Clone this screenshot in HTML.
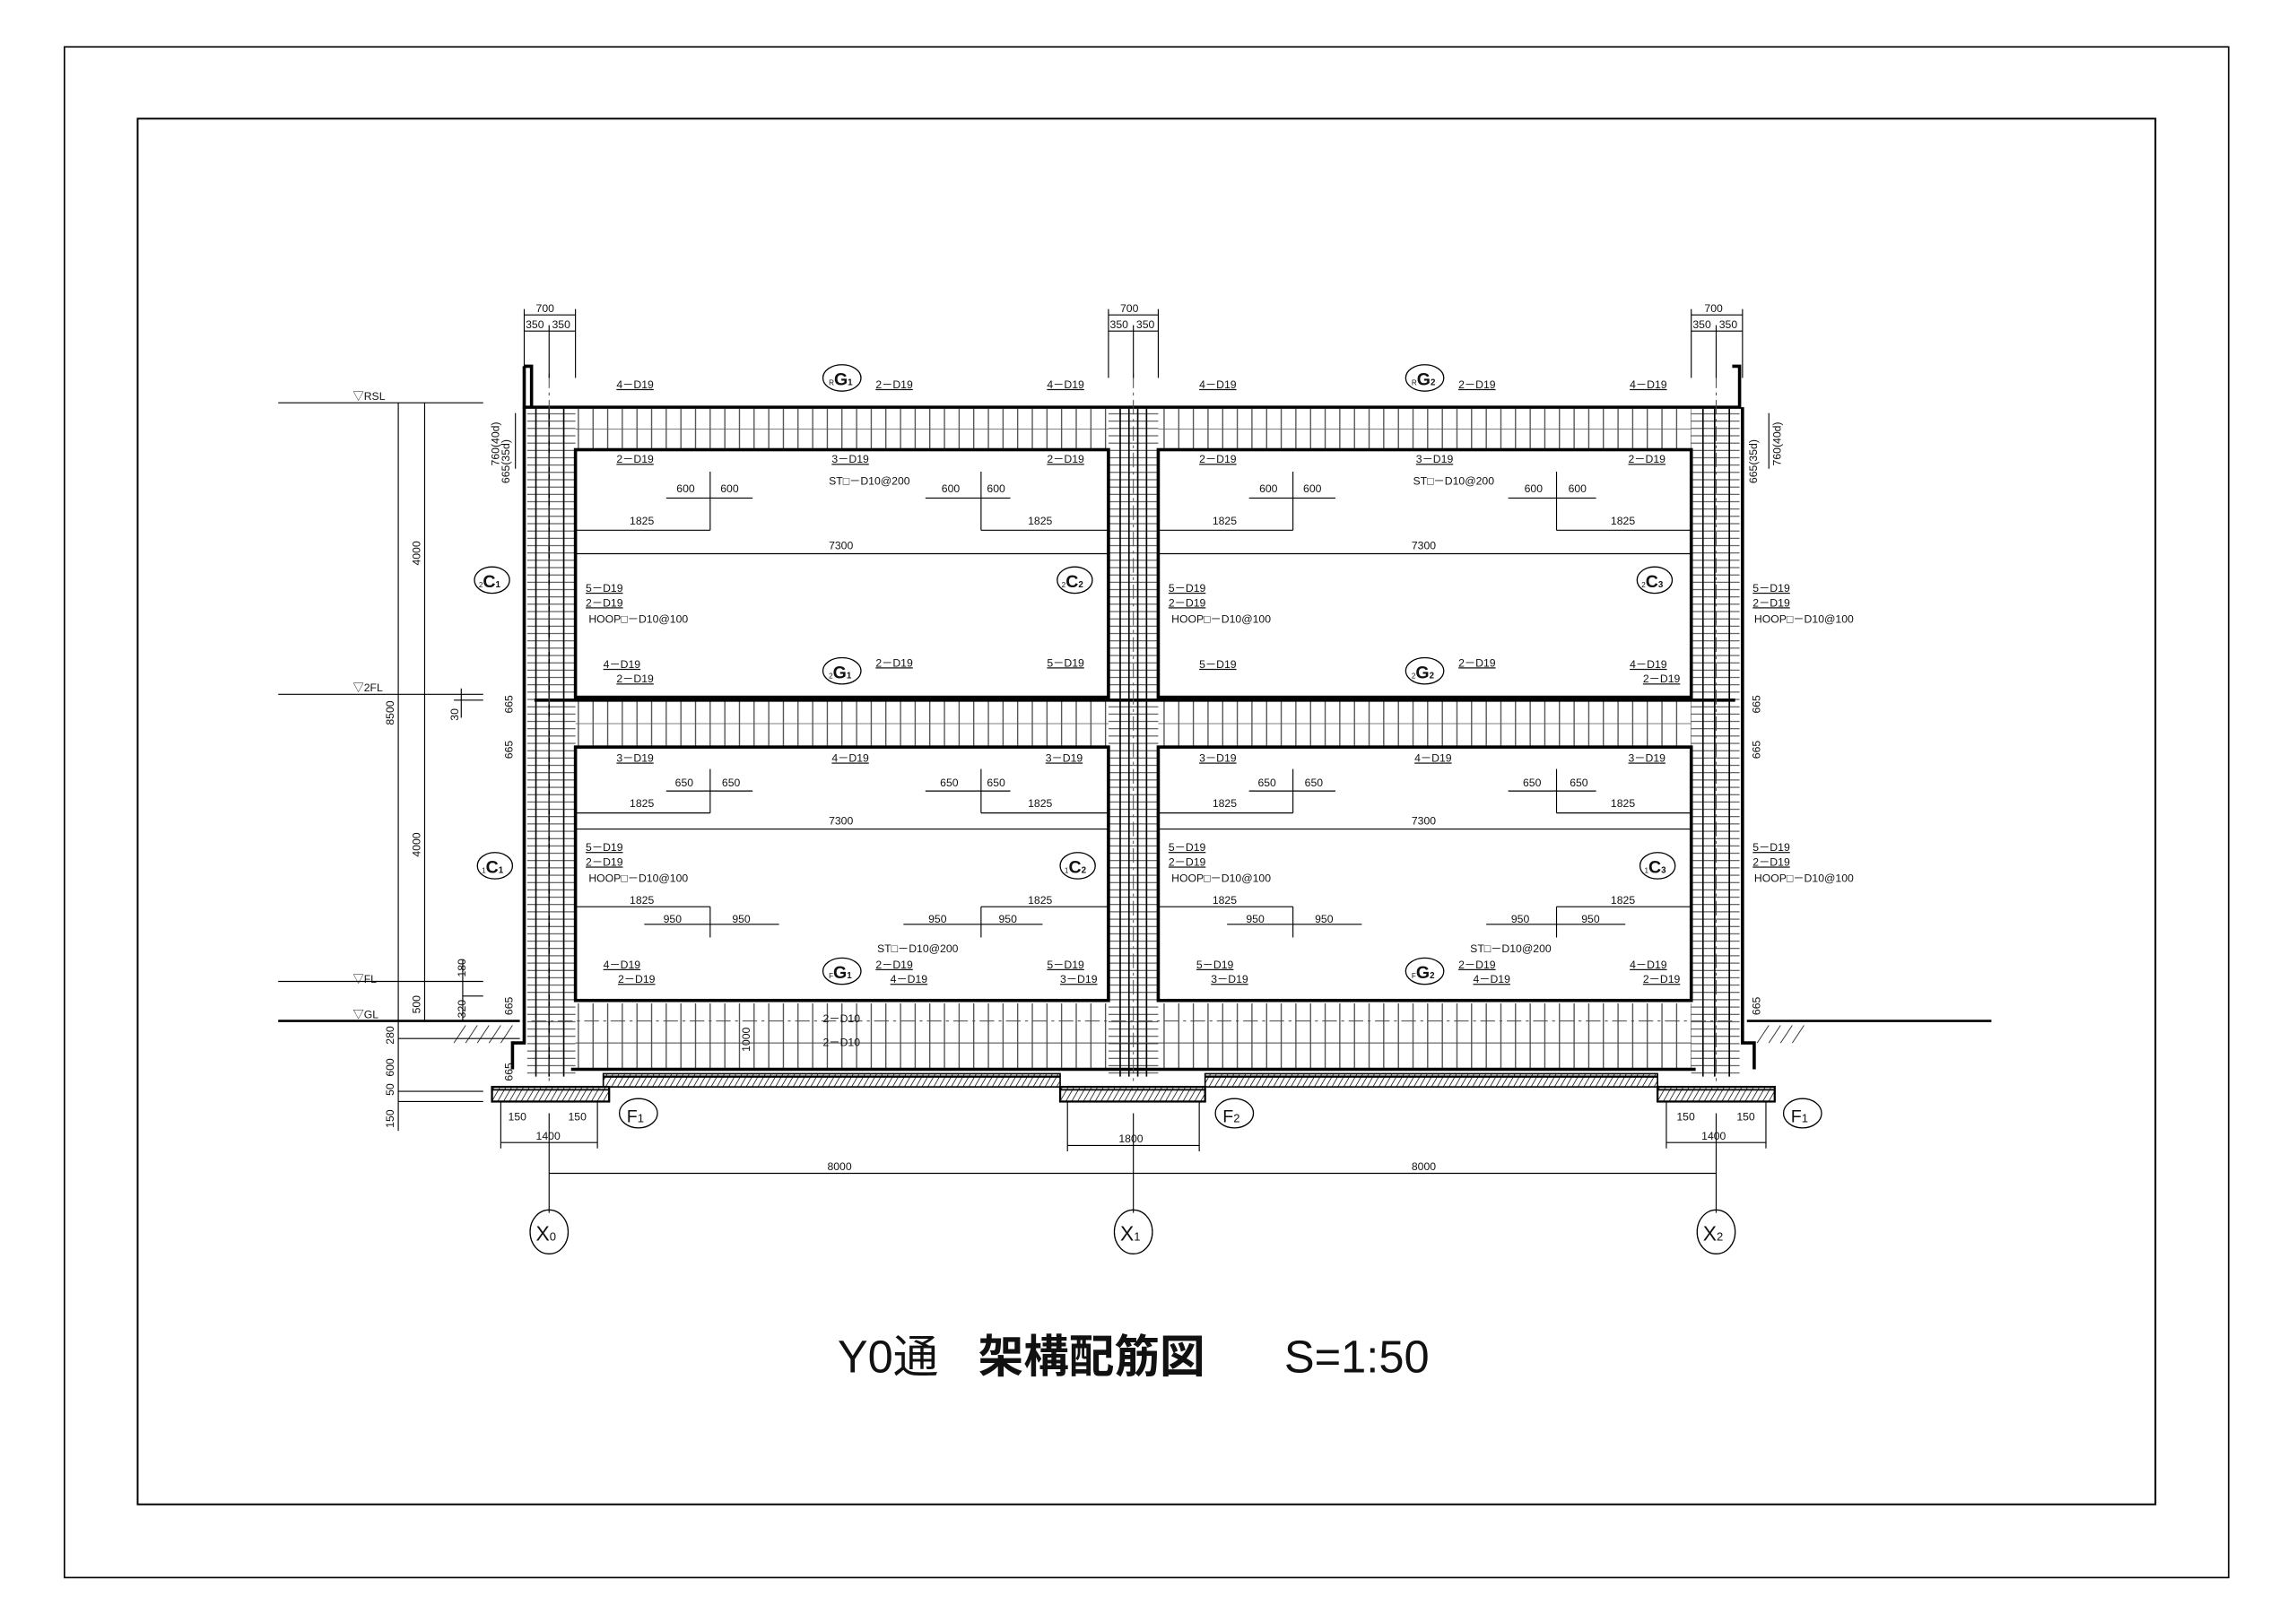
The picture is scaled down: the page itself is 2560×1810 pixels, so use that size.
<!DOCTYPE html>
<html><head><meta charset="utf-8"><style>
html,body{margin:0;padding:0;background:#fff;}
svg{display:block;}
text{font-family:"Liberation Sans","Noto Sans CJK JP",sans-serif;fill:#111;}
.t{font-size:7.5px;}
.u text{text-decoration:underline;}
.b{fill:none;stroke:#000;}
</style></head><body>
<svg width="2560" height="1810" viewBox="0 0 1568 1108" preserveAspectRatio="none" xmlns="http://www.w3.org/2000/svg">
<defs>
<pattern id="vb" width="10" height="10" patternUnits="userSpaceOnUse"><rect width="10" height="10" fill="#fff"/><line x1="5" y1="0" x2="5" y2="10" stroke="#333" stroke-width="0.7"/></pattern>
<pattern id="hc" width="10" height="5" patternUnits="userSpaceOnUse"><rect width="10" height="5" fill="#fff"/><line x1="0" y1="2.5" x2="10" y2="2.5" stroke="#333" stroke-width="0.6"/></pattern>
<pattern id="ht" width="4" height="10" patternUnits="userSpaceOnUse" patternTransform="skewX(-30)"><rect width="4" height="10" fill="#fff"/><line x1="2" y1="0" x2="2" y2="10" stroke="#222" stroke-width="0.6"/></pattern>
</defs>
<rect width="1568" height="1108" fill="#fff"/>
<rect x="44" y="32" width="1478" height="1045" class="b" stroke-width="1"/>
<rect x="94" y="81" width="1378" height="946" class="b" stroke-width="1.2"/>

<rect x="363" y="279" width="823" height="28" fill="url(#vb)"/>
<rect x="363" y="479" width="823" height="30" fill="url(#vb)"/>
<rect x="363" y="685" width="823" height="45" fill="url(#vb)"/>
<line x1="393" y1="293" x2="1155" y2="293" stroke="#555" stroke-width="0.5"/>
<line x1="393" y1="494" x2="1155" y2="494" stroke="#555" stroke-width="0.5"/>
<rect x="360" y="279" width="33" height="455" fill="url(#hc)"/>
<rect x="757" y="279" width="34" height="455" fill="url(#hc)"/>
<rect x="1155" y="279" width="33" height="455" fill="url(#hc)"/>
<g stroke="#000" stroke-width="1" fill="none">
<line x1="375" y1="279" x2="375" y2="735"/><line x1="385" y1="279" x2="385" y2="735"/><line x1="366" y1="279" x2="366" y2="735"/>
<line x1="765" y1="279" x2="765" y2="735"/><line x1="783" y1="279" x2="783" y2="735"/><line x1="771" y1="279" x2="771" y2="735"/><line x1="777" y1="279" x2="777" y2="735"/>
<line x1="1163" y1="279" x2="1163" y2="735"/><line x1="1181" y1="279" x2="1181" y2="735"/><line x1="1171" y1="279" x2="1171" y2="735"/>
</g>
<g stroke="#000" stroke-width="2.2" fill="none">
<path d="M358,250 V278 H1188 V250 H1183"/><path d="M358,250 H363 V278"/>
<line x1="358" y1="278" x2="358" y2="700"/><line x1="1190" y1="278" x2="1190" y2="700"/>
<rect x="393" y="307" width="364" height="169"/><rect x="791" y="307" width="364" height="169"/>
<rect x="393" y="510" width="364" height="173"/><rect x="791" y="510" width="364" height="173"/>
<line x1="365" y1="478" x2="1185" y2="478"/>
<line x1="390" y1="730" x2="1158" y2="730"/>
<path d="M358,700 V712 H350 V730"/><path d="M1190,700 V712 H1198 V730"/>
</g>
<line x1="190" y1="697" x2="355" y2="697" stroke="#000" stroke-width="1.6"/>
<line x1="1193" y1="697" x2="1360" y2="697" stroke="#000" stroke-width="1.6"/>
<g stroke="#333" stroke-width="0.6"><path d="M310,712 l8,-12 M318,712 l8,-12 M326,712 l8,-12 M334,712 l8,-12 M342,712 l8,-12 M1200,712 l8,-12 M1208,712 l8,-12 M1216,712 l8,-12 M1224,712 l8,-12"/></g>
<g stroke="#444" stroke-width="0.6" stroke-dasharray="10,3,2,3">
<line x1="375" y1="255" x2="375" y2="740"/><line x1="774" y1="255" x2="774" y2="740"/><line x1="1172" y1="255" x2="1172" y2="740"/>
<line x1="363" y1="697" x2="1186" y2="697"/>
</g>
<line x1="393" y1="712" x2="1155" y2="712" stroke="#444" stroke-width="0.6"/>
<rect x="412" y="733" width="312" height="9" fill="url(#ht)" stroke="#000" stroke-width="1"/>
<rect x="823" y="733" width="309" height="9" fill="url(#ht)" stroke="#000" stroke-width="1"/>
<line x1="412" y1="735" x2="724" y2="735" stroke="#000" stroke-width="1.5"/>
<line x1="823" y1="735" x2="1132" y2="735" stroke="#000" stroke-width="1.5"/>
<rect x="336" y="742" width="80" height="10" fill="url(#ht)" stroke="#000" stroke-width="1.4"/>
<rect x="724" y="742" width="99" height="10" fill="url(#ht)" stroke="#000" stroke-width="1.4"/>
<rect x="1132" y="742" width="80" height="10" fill="url(#ht)" stroke="#000" stroke-width="1.4"/>
<g stroke="#000" stroke-width="1"><line x1="336" y1="744" x2="416" y2="744"/><line x1="724" y1="744" x2="823" y2="744"/><line x1="1132" y1="744" x2="1212" y2="744"/></g>

<g stroke="#000" stroke-width="0.7" fill="none">
<line x1="190" y1="275" x2="330" y2="275"/><line x1="190" y1="474" x2="330" y2="474"/><line x1="190" y1="670" x2="330" y2="670"/>
<line x1="272" y1="275" x2="272" y2="772"/><line x1="290" y1="275" x2="290" y2="697"/>
<line x1="272" y1="709" x2="355" y2="709"/><line x1="272" y1="745" x2="330" y2="745"/><line x1="272" y1="752" x2="330" y2="752"/>
<line x1="315" y1="470" x2="315" y2="490"/><line x1="310" y1="478" x2="330" y2="478"/>
<line x1="316" y1="655" x2="316" y2="697"/><line x1="316" y1="680" x2="330" y2="680"/>
<line x1="358" y1="215" x2="393" y2="215"/><line x1="358" y1="226" x2="393" y2="226"/><line x1="358" y1="211" x2="358" y2="258"/><line x1="393" y1="211" x2="393" y2="258"/><line x1="375" y1="222" x2="375" y2="258"/>
<line x1="757" y1="215" x2="791" y2="215"/><line x1="757" y1="226" x2="791" y2="226"/><line x1="757" y1="211" x2="757" y2="258"/><line x1="791" y1="211" x2="791" y2="258"/><line x1="774" y1="222" x2="774" y2="258"/>
<line x1="1155" y1="215" x2="1190" y2="215"/><line x1="1155" y1="226" x2="1190" y2="226"/><line x1="1155" y1="211" x2="1155" y2="258"/><line x1="1190" y1="211" x2="1190" y2="258"/><line x1="1172" y1="222" x2="1172" y2="258"/>
<line x1="375" y1="801" x2="1172" y2="801"/>
<line x1="375" y1="760" x2="375" y2="828"/><line x1="774" y1="760" x2="774" y2="828"/><line x1="1172" y1="760" x2="1172" y2="828"/>
<line x1="342" y1="780" x2="408" y2="780"/><line x1="342" y1="752" x2="342" y2="784"/><line x1="408" y1="752" x2="408" y2="784"/>
<line x1="729" y1="782" x2="819" y2="782"/><line x1="729" y1="752" x2="729" y2="786"/><line x1="819" y1="752" x2="819" y2="786"/>
<line x1="1138" y1="780" x2="1206" y2="780"/><line x1="1138" y1="752" x2="1138" y2="784"/><line x1="1206" y1="752" x2="1206" y2="784"/>
<line x1="393" y1="362" x2="485" y2="362"/><line x1="670" y1="362" x2="757" y2="362"/><line x1="393" y1="378" x2="757" y2="378"/>
<line x1="455" y1="340" x2="514" y2="340"/><line x1="485" y1="322" x2="485" y2="362"/><line x1="632" y1="340" x2="690" y2="340"/><line x1="670" y1="322" x2="670" y2="362"/>
<line x1="791" y1="362" x2="883" y2="362"/><line x1="1063" y1="362" x2="1155" y2="362"/><line x1="791" y1="378" x2="1155" y2="378"/>
<line x1="853" y1="340" x2="912" y2="340"/><line x1="883" y1="322" x2="883" y2="362"/><line x1="1030" y1="340" x2="1090" y2="340"/><line x1="1063" y1="322" x2="1063" y2="362"/>
<line x1="393" y1="555" x2="485" y2="555"/><line x1="670" y1="555" x2="757" y2="555"/><line x1="393" y1="566" x2="757" y2="566"/>
<line x1="455" y1="540" x2="514" y2="540"/><line x1="485" y1="525" x2="485" y2="555"/><line x1="632" y1="540" x2="690" y2="540"/><line x1="670" y1="525" x2="670" y2="555"/>
<line x1="791" y1="555" x2="883" y2="555"/><line x1="1063" y1="555" x2="1155" y2="555"/><line x1="791" y1="566" x2="1155" y2="566"/>
<line x1="853" y1="540" x2="912" y2="540"/><line x1="883" y1="525" x2="883" y2="555"/><line x1="1030" y1="540" x2="1090" y2="540"/><line x1="1063" y1="525" x2="1063" y2="555"/>
<line x1="393" y1="619" x2="485" y2="619"/><line x1="670" y1="619" x2="757" y2="619"/>
<line x1="440" y1="631" x2="532" y2="631"/><line x1="485" y1="619" x2="485" y2="640"/><line x1="617" y1="631" x2="712" y2="631"/><line x1="670" y1="619" x2="670" y2="640"/>
<line x1="791" y1="619" x2="883" y2="619"/><line x1="1063" y1="619" x2="1155" y2="619"/>
<line x1="838" y1="631" x2="930" y2="631"/><line x1="883" y1="619" x2="883" y2="640"/><line x1="1015" y1="631" x2="1110" y2="631"/><line x1="1063" y1="619" x2="1063" y2="640"/>
<line x1="352" y1="282" x2="352" y2="320"/><line x1="1208" y1="282" x2="1208" y2="320"/>
</g>

<g fill="none" stroke="#000" stroke-width="0.8">
<ellipse cx="375" cy="841" rx="13" ry="15"/><ellipse cx="774" cy="841" rx="13" ry="15"/><ellipse cx="1172" cy="841" rx="13" ry="15"/>
<ellipse cx="436" cy="760" rx="13" ry="10"/><ellipse cx="843" cy="760" rx="13" ry="10"/><ellipse cx="1231" cy="760" rx="13" ry="10"/>
<ellipse cx="575" cy="258" rx="13" ry="9"/><ellipse cx="973" cy="258" rx="13" ry="9"/>
<ellipse cx="575" cy="458" rx="13" ry="9"/><ellipse cx="973" cy="458" rx="13" ry="9"/>
<ellipse cx="575" cy="663" rx="13" ry="9"/><ellipse cx="973" cy="663" rx="13" ry="9"/>
<ellipse cx="336" cy="396" rx="12" ry="9"/><ellipse cx="734" cy="396" rx="12" ry="9"/><ellipse cx="1130" cy="396" rx="12" ry="9"/>
<ellipse cx="338" cy="591" rx="12" ry="9"/><ellipse cx="736" cy="591" rx="12" ry="9"/><ellipse cx="1132" cy="591" rx="12" ry="9"/>
</g>
<g font-size="14">
<text x="366" y="847">X<tspan font-size="8">0</tspan></text><text x="765" y="847">X<tspan font-size="8">1</tspan></text><text x="1163" y="847">X<tspan font-size="8">2</tspan></text>
<text x="428" y="766" font-size="12">F<tspan font-size="8">1</tspan></text><text x="835" y="766" font-size="12">F<tspan font-size="8">2</tspan></text><text x="1223" y="766" font-size="12">F<tspan font-size="8">1</tspan></text>
</g>
<g font-size="12" font-weight="bold">
<text x="566" y="263"><tspan font-size="5" font-weight="normal">R</tspan>G<tspan font-size="6">1</tspan></text>
<text x="964" y="263"><tspan font-size="5" font-weight="normal">R</tspan>G<tspan font-size="6">2</tspan></text>
<text x="566" y="463"><tspan font-size="5" font-weight="normal">2</tspan>G<tspan font-size="6">1</tspan></text>
<text x="964" y="463"><tspan font-size="5" font-weight="normal">2</tspan>G<tspan font-size="6">2</tspan></text>
<text x="566" y="668"><tspan font-size="5" font-weight="normal">F</tspan>G<tspan font-size="6">1</tspan></text>
<text x="964" y="668"><tspan font-size="5" font-weight="normal">F</tspan>G<tspan font-size="6">2</tspan></text>
<text x="327" y="401"><tspan font-size="5" font-weight="normal">2</tspan>C<tspan font-size="6">1</tspan></text>
<text x="725" y="401"><tspan font-size="5" font-weight="normal">2</tspan>C<tspan font-size="6">2</tspan></text>
<text x="1121" y="401"><tspan font-size="5" font-weight="normal">2</tspan>C<tspan font-size="6">3</tspan></text>
<text x="329" y="596"><tspan font-size="5" font-weight="normal">1</tspan>C<tspan font-size="6">1</tspan></text>
<text x="727" y="596"><tspan font-size="5" font-weight="normal">1</tspan>C<tspan font-size="6">2</tspan></text>
<text x="1123" y="596"><tspan font-size="5" font-weight="normal">1</tspan>C<tspan font-size="6">3</tspan></text>
</g>

<g class="t u" font-size="7.5">
<text x="421" y="265">4－D19</text><text x="598" y="265">2－D19</text><text x="715" y="265">4－D19</text>
<text x="819" y="265">4－D19</text><text x="996" y="265">2－D19</text><text x="1113" y="265">4－D19</text>
<text x="421" y="316">2－D19</text><text x="568" y="316">3－D19</text><text x="715" y="316">2－D19</text>
<text x="819" y="316">2－D19</text><text x="967" y="316">3－D19</text><text x="1112" y="316">2－D19</text>
<text x="400" y="404">5－D19</text><text x="400" y="414">2－D19</text>
<text x="798" y="404">5－D19</text><text x="798" y="414">2－D19</text>
<text x="1197" y="404">5－D19</text><text x="1197" y="414">2－D19</text>
<text x="412" y="456">4－D19</text><text x="421" y="466">2－D19</text><text x="598" y="455">2－D19</text><text x="715" y="455">5－D19</text>
<text x="819" y="456">5－D19</text><text x="996" y="455">2－D19</text><text x="1113" y="456">4－D19</text><text x="1122" y="466">2－D19</text>
<text x="421" y="520">3－D19</text><text x="568" y="520">4－D19</text><text x="714" y="520">3－D19</text>
<text x="819" y="520">3－D19</text><text x="966" y="520">4－D19</text><text x="1112" y="520">3－D19</text>
<text x="400" y="581">5－D19</text><text x="400" y="591">2－D19</text>
<text x="798" y="581">5－D19</text><text x="798" y="591">2－D19</text>
<text x="1197" y="581">5－D19</text><text x="1197" y="591">2－D19</text>
<text x="412" y="661">4－D19</text><text x="422" y="671">2－D19</text><text x="598" y="661">2－D19</text><text x="608" y="671">4－D19</text><text x="715" y="661">5－D19</text><text x="724" y="671">3－D19</text>
<text x="817" y="661">5－D19</text><text x="827" y="671">3－D19</text><text x="996" y="661">2－D19</text><text x="1006" y="671">4－D19</text><text x="1113" y="661">4－D19</text><text x="1122" y="671">2－D19</text>
</g>
<g class="t" font-size="7.5">
<text x="566" y="331">ST□－D10@200</text><text x="965" y="331">ST□－D10@200</text>
<text x="462" y="336">600</text><text x="492" y="336">600</text><text x="643" y="336">600</text><text x="674" y="336">600</text>
<text x="860" y="336">600</text><text x="890" y="336">600</text><text x="1041" y="336">600</text><text x="1071" y="336">600</text>
<text x="430" y="358">1825</text><text x="702" y="358">1825</text><text x="828" y="358">1825</text><text x="1100" y="358">1825</text>
<text x="566" y="375">7300</text><text x="964" y="375">7300</text>
<text x="402" y="425">HOOP□－D10@100</text><text x="800" y="425">HOOP□－D10@100</text><text x="1198" y="425">HOOP□－D10@100</text>
<text x="461" y="537">650</text><text x="493" y="537">650</text><text x="642" y="537">650</text><text x="674" y="537">650</text>
<text x="859" y="537">650</text><text x="891" y="537">650</text><text x="1040" y="537">650</text><text x="1072" y="537">650</text>
<text x="430" y="551">1825</text><text x="702" y="551">1825</text><text x="828" y="551">1825</text><text x="1100" y="551">1825</text>
<text x="566" y="563">7300</text><text x="964" y="563">7300</text>
<text x="402" y="602">HOOP□－D10@100</text><text x="800" y="602">HOOP□－D10@100</text><text x="1198" y="602">HOOP□－D10@100</text>
<text x="430" y="617">1825</text><text x="702" y="617">1825</text><text x="828" y="617">1825</text><text x="1100" y="617">1825</text>
<text x="453" y="630">950</text><text x="500" y="630">950</text><text x="634" y="630">950</text><text x="682" y="630">950</text>
<text x="851" y="630">950</text><text x="898" y="630">950</text><text x="1032" y="630">950</text><text x="1080" y="630">950</text>
<text x="599" y="650">ST□－D10@200</text><text x="1004" y="650">ST□－D10@200</text>
<text x="562" y="698">2－D10</text><text x="562" y="714">2－D10</text>
<text x="366" y="213">700</text><text x="359" y="224">350</text><text x="377" y="224">350</text>
<text x="765" y="213">700</text><text x="758" y="224">350</text><text x="776" y="224">350</text>
<text x="1164" y="213">700</text><text x="1156" y="224">350</text><text x="1174" y="224">350</text>
<text x="565" y="799">8000</text><text x="964" y="799">8000</text>
<text x="366" y="778">1400</text><text x="764" y="780">1800</text><text x="1162" y="778">1400</text>
<text x="347" y="765">150</text><text x="388" y="765">150</text><text x="1145" y="765">150</text><text x="1186" y="765">150</text>
<text x="241" y="273">▽RSL</text><text x="241" y="472">▽2FL</text><text x="241" y="671">▽FL</text><text x="241" y="695">▽GL</text>
</g>
<g class="t" font-size="7.5">
<text transform="translate(287,386) rotate(-90)">4000</text>
<text transform="translate(287,585) rotate(-90)">4000</text>
<text transform="translate(269,495) rotate(-90)">8500</text>
<text transform="translate(287,692) rotate(-90)">500</text>
<text transform="translate(269,713) rotate(-90)">280</text>
<text transform="translate(269,735) rotate(-90)">600</text>
<text transform="translate(269,748) rotate(-90)">50</text>
<text transform="translate(269,770) rotate(-90)">150</text>
<text transform="translate(313,492) rotate(-90)">30</text>
<text transform="translate(318,667) rotate(-90)">180</text>
<text transform="translate(318,695) rotate(-90)">320</text>
<text transform="translate(341,318) rotate(-90)">760(40d)</text>
<text transform="translate(348,330) rotate(-90)">665(35d)</text>
<text transform="translate(350,487) rotate(-90)">665</text>
<text transform="translate(350,518) rotate(-90)">665</text>
<text transform="translate(350,693) rotate(-90)">665</text>
<text transform="translate(350,738) rotate(-90)">665</text>
<text transform="translate(1216,318) rotate(-90)">760(40d)</text>
<text transform="translate(1200,330) rotate(-90)">665(35d)</text>
<text transform="translate(1202,487) rotate(-90)">665</text>
<text transform="translate(1202,518) rotate(-90)">665</text>
<text transform="translate(1202,693) rotate(-90)">665</text>
<text transform="translate(512,718) rotate(-90)">1000</text>
</g>

<text x="572" y="937" font-size="31" style="font-family:'Liberation Sans','Noto Sans CJK JP',sans-serif">Y0通</text>
<text x="668" y="937" font-size="31" font-weight="bold" style="font-family:'Liberation Sans','Noto Sans CJK JP',sans-serif">架構配筋図</text>
<text x="877" y="937" font-size="31" style="font-family:'Liberation Sans','Noto Sans CJK JP',sans-serif">S=1:50</text>
</svg>
</body></html>
